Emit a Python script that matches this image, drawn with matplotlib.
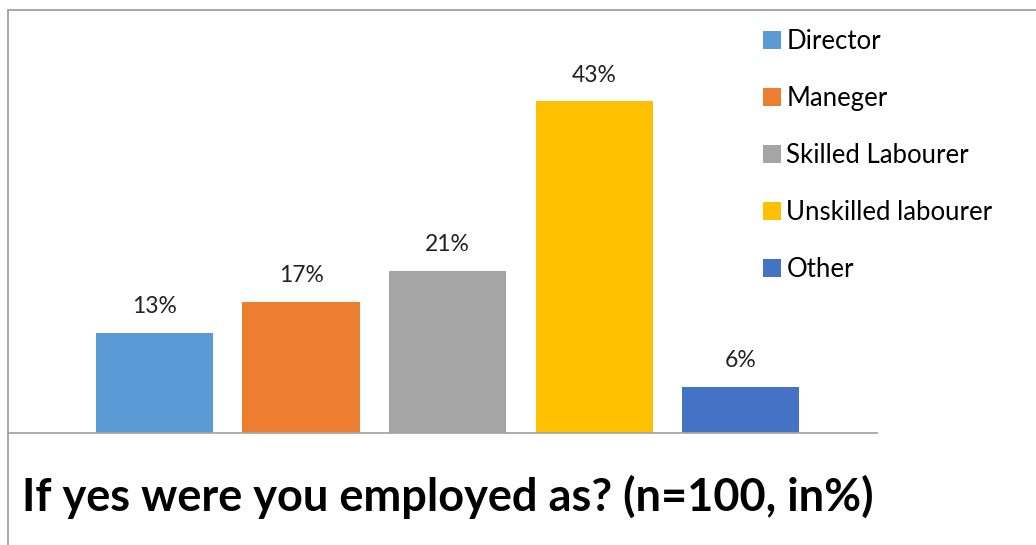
import matplotlib.pyplot as plt
from matplotlib.patches import Patch, Rectangle

categories = ['Director', 'Maneger', 'Skilled Labourer', 'Unskilled labourer', 'Other']
values = [13, 17, 21, 43, 6]
colors = ['#5B9BD5', '#ED7D31', '#A5A5A5', '#FFC000', '#4472C4']
title = 'If yes were you employed as? (n=100, in%)'

plt.rcParams['font.family'] = ['Lato', 'DejaVu Sans']

fig = plt.figure(figsize=(10.36, 5.45), dpi=100)
W, H = 1036, 545

# outer chart frame (partly off the picture, as in the reference)
fig.patches.append(Rectangle((8 / W, -0.1), 1.2, 1 - 10 / H + 0.1, transform=fig.transFigure,
                             fill=False, edgecolor='#A0A0A0', linewidth=1.3))

ax = fig.add_axes([8 / W, (H - 433) / H, (877 - 8) / W, (433 - 10) / H])
x = list(range(len(categories)))
bars = ax.bar(x, values, width=0.8, color=colors)
for xi, v in zip(x, values):
    ax.text(xi, v + 2.0, f'{v}%', ha='center', va='bottom', fontsize=16.5, color='#222222')

ax.set_xlim(-1.0, 4.93)
ax.set_ylim(0, 54.8)
ax.set_xticks([])
ax.set_yticks([])
for s in ['top', 'right', 'left']:
    ax.spines[s].set_visible(False)
ax.spines['bottom'].set_color('#A6A6A6')
ax.spines['bottom'].set_linewidth(1.3)
ax.patch.set_alpha(0)

handles = [Patch(facecolor=c, label=l) for c, l in zip(colors, categories)]
fig.legend(handles=handles, loc='upper left', bbox_to_anchor=(753 / W, 1 - 19 / H),
           frameon=False, fontsize=18.5, handlelength=0.68, handleheight=0.68,
           handletextpad=0.22, labelspacing=1.24, borderaxespad=0)

fig.text(22 / W, 1 - 497 / H, title, ha='left', va='center', fontsize=32.5,
         fontweight='bold', color='black')

fig.savefig('out.png', dpi=100)
